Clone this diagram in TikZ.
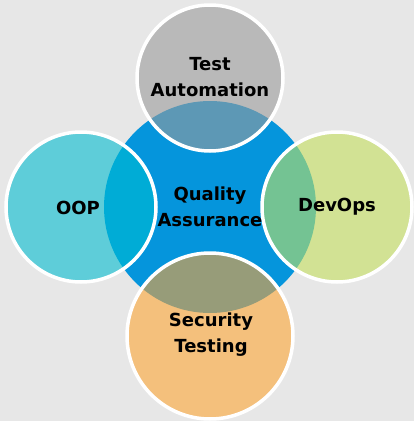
\documentclass[tikz,border=0pt]{standalone}
\usepackage{fontspec}
\setmainfont{DejaVu Sans}
\definecolor{bgc}{HTML}{E7E7E7}
\definecolor{qa}{HTML}{0595DC}
\definecolor{tac}{HTML}{B9B9B9}
\definecolor{talens}{HTML}{5D98B5}
\definecolor{oopc}{HTML}{5ECDD9}
\definecolor{ooplens}{HTML}{00ACD6}
\definecolor{devc}{HTML}{D2E294}
\definecolor{devlens}{HTML}{74C393}
\definecolor{secc}{HTML}{F4C07C}
\definecolor{seclens}{HTML}{979C79}
\tikzset{
  lbl/.style={font=\bfseries\fontsize{18}{26}\selectfont, align=center, text=black},
  ring/.style={draw=white, line width=3.5pt}
}
\begin{document}
\begin{tikzpicture}[x=1pt,y=-1pt]
\fill[bgc] (0,0) rectangle (414,421);
\useasboundingbox (0,0) rectangle (414,421);
% central
\fill[qa] (210,207) circle (106);
% satellites
\fill[tac] (210,78) circle (73);
\fill[oopc] (81,207) circle (75);
\fill[devc] (337,207) circle (75);
\fill[secc] (210,336) circle (83);
% lenses
\begin{scope}\clip (210,207) circle (106);
  \fill[talens] (210,78) circle (73);
  \fill[ooplens] (81,207) circle (75);
  \fill[devlens] (337,207) circle (75);
  \fill[seclens] (210,336) circle (83);
\end{scope}
% rings
\draw[ring] (210,78) circle (73);
\draw[ring] (81,207) circle (75);
\draw[ring] (337,207) circle (75);
\draw[ring] (210,336) circle (83);
% labels
\node[lbl] (qa) at (210,207) {Quality\\Assurance};
\node[lbl] (ta) at (210,77) {Test\\Automation};
\node[lbl] (oop) at (78,208) {OOP};
\node[lbl] (dev) at (337,207) {DevOps};
\node[lbl] (sec) at (211,335) {Security\\Testing};
\end{tikzpicture}
\end{document}
